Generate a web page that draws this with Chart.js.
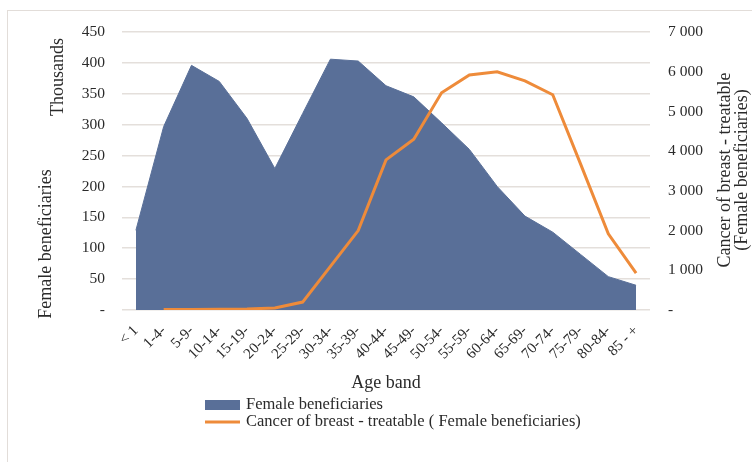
<!DOCTYPE html>
<html>
<head>
<meta charset="utf-8">
<script src="https://cdn.jsdelivr.net/npm/chart.js@4/dist/chart.umd.min.js"></script>
<style>
  body { margin: 0; overflow: hidden; background: #fff; }
  #wrap { position: relative; width: 752px; height: 462px; }
  #frame { position: absolute; left: 7px; top: 10px; width: 800px; height: 500px; border: 1px solid #e2ddd9; }
  #chart { position: absolute; left: 0; top: 0; }
</style>
</head>
<body>
<div id="wrap">
  <div id="frame"></div>
  <canvas id="chart" width="752" height="462"></canvas>
</div>
<script>
const age_bands = ["< 1", "1-4-", "5-9-", "10-14-", "15-19-", "20-24-", "25-29-", "30-34-", "35-39-", "40-44-",
  "45-49-", "50-54-", "55-59-", "60-64-", "65-69-", "70-74-", "75-79-", "80-84-", "85 - +"];
// thousands
const female_beneficiaries = [129, 297, 396, 370, 310, 229, 318, 406, 403, 363,
  345, 303, 260, 200, 152, 126, 90, 54, 40];
const breast_cancer_treatable = [null, 10, 15, 20, 25, 50, 200, 1100, 2000, 3780,
  4300, 5470, 5920, 6000, 5770, 5420, 3680, 1920, 930];
const left_max = 450, left_step = 50;
const right_max = 7000, right_step = 1000;

const blue = "#596f98";
const orange = "#ee8b3a";
const serif = "'Liberation Serif', 'DejaVu Serif', serif";
const ink = "#2a2a2a";

function fmtThousands(v) {
  if (v === 0) return "-";
  return String(v).replace(/\B(?=(\d{3})+(?!\d))/g, " ");
}

// axis titles + legend drawn by hand so they sit where the original has them
const extras = {
  id: "extras",
  afterDraw(chart) {
    const c = chart.ctx;
    const a = chart.chartArea;
    c.save();
    c.fillStyle = ink;
    c.textAlign = "center";
    c.textBaseline = "middle";
    c.font = "18px " + serif;

    function vtext(txt, x, y) {
      c.save();
      c.translate(x, y);
      c.rotate(-Math.PI / 2);
      c.fillText(txt, 0, 0);
      c.restore();
    }
    vtext("Thousands", a.left - 64, 77);
    vtext("Female beneficiaries", a.left - 76, 244);
    vtext("Cancer of breast - treatable", a.right + 75, 170);
    vtext("(Female beneficiaries)", a.right + 92, 170);

    c.font = "18px " + serif;
    c.fillText("Age band", (a.left + a.right) / 2, 383);

    // legend
    const ds = chart.data.datasets;
    c.textAlign = "left";
    c.font = "16.5px " + serif;
    c.fillStyle = ds[0].backgroundColor;
    c.fillRect(205, 400, 35, 10);
    c.strokeStyle = ds[1].borderColor;
    c.lineWidth = 3;
    c.beginPath();
    c.moveTo(205, 422);
    c.lineTo(240, 422);
    c.stroke();
    c.fillStyle = ink;
    c.fillText(ds[0].label, 246, 405);
    c.fillText(ds[1].label, 246, 422);
    c.restore();
  }
};

var ctx = document.getElementById("chart").getContext("2d");
var chart = new Chart(ctx, {
  type: "line",
  data: {
    labels: age_bands,
    datasets: [
      {
        label: "Female beneficiaries",
        data: female_beneficiaries,
        yAxisID: "y",
        fill: "origin",
        backgroundColor: blue,
        borderColor: blue,
        borderWidth: 1,
        pointRadius: 0,
        tension: 0,
        order: 1
      },
      {
        label: "Cancer of breast - treatable ( Female beneficiaries)",
        data: breast_cancer_treatable,
        yAxisID: "y1",
        fill: false,
        borderColor: orange,
        borderWidth: 3,
        pointRadius: 0,
        tension: 0,
        order: 0
      }
    ]
  },
  options: {
    responsive: false,
    animation: false,
    layout: { padding: { top: 32, left: 0, right: 0, bottom: 0 } },
    plugins: { legend: { display: false }, tooltip: { enabled: false } },
    scales: {
      x: {
        offset: true,
        grid: { display: false },
        border: { display: false },
        ticks: {
          autoSkip: false, minRotation: 45, maxRotation: 45, padding: 4,
          color: ink, font: { family: serif, size: 15 }
        },
        afterFit(s) { s.height = 152; }
      },
      y: {
        position: "left",
        min: 0, max: left_max,
        grid: { color: "#e4dfdb", lineWidth: 1.5, drawTicks: false },
        border: { display: false },
        ticks: {
          stepSize: left_step, padding: 17, color: ink,
          font: { family: serif, size: 15.5 },
          callback: v => v === 0 ? "-" : v
        },
        afterFit(s) { s.width = 122; }
      },
      y1: {
        position: "right",
        min: 0, max: right_max,
        grid: { display: false, drawTicks: false },
        border: { display: false },
        ticks: {
          stepSize: right_step, padding: 18, color: ink,
          font: { family: serif, size: 15.5 },
          callback: v => fmtThousands(v)
        },
        afterFit(s) { s.width = 102; }
      }
    }
  },
  plugins: [extras]
});
</script>
</body>
</html>
